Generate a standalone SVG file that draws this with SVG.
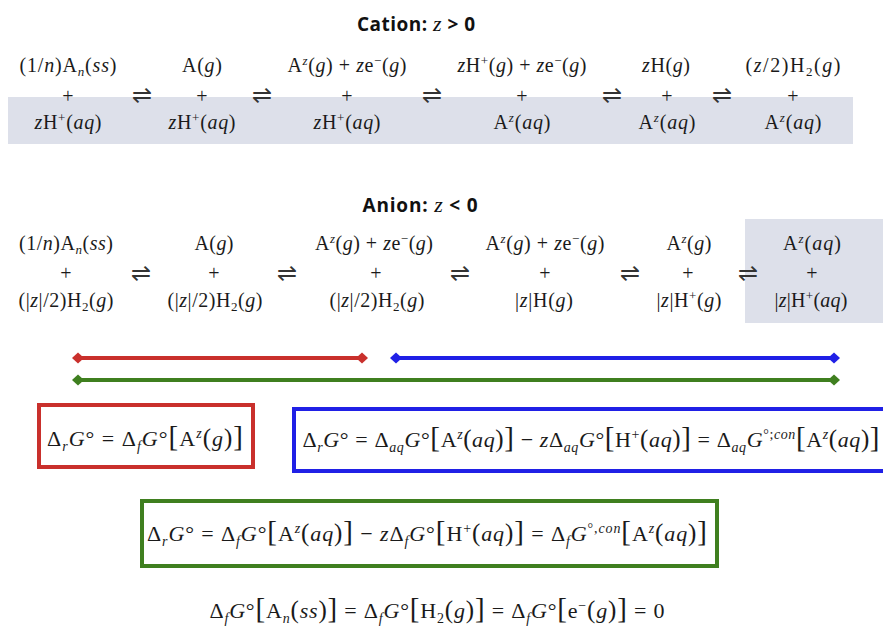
<svg xmlns="http://www.w3.org/2000/svg" width="883" height="628" viewBox="0 0 883 628">
<style>
.m{font-family:"Liberation Serif","Times New Roman",serif;font-size:20px;fill:#1a1a1a}
.e{font-family:"Liberation Serif","Times New Roman",serif;font-size:22px;fill:#1a1a1a}
.i{font-style:italic}
.s{font-size:13px}
.s2{font-size:14px}
.b{font-size:29px}
.p{font-size:25px}
.h{font-family:"DejaVu Sans",sans-serif;font-size:24px;fill:#333}
.t{font-family:"Open Sans","Liberation Sans",sans-serif;font-weight:bold;font-size:19px;fill:#111}
.tz{font-family:"Liberation Serif",serif;font-style:italic;font-weight:normal;font-size:22px}
.band{fill:#dde0ea}
.ln{fill:none;stroke-width:4}
.box{fill:#fff;stroke-width:4}
</style>
<defs>
<marker id="dr" viewBox="0 0 12 12" refX="6" refY="6" markerWidth="12" markerHeight="12" markerUnits="userSpaceOnUse" orient="auto"><path d="M0,6 L6,0.5 L12,6 L6,11.5 Z" fill="#c9302c"/></marker>
<marker id="db" viewBox="0 0 12 12" refX="6" refY="6" markerWidth="12" markerHeight="12" markerUnits="userSpaceOnUse" orient="auto"><path d="M0,6 L6,0.5 L12,6 L6,11.5 Z" fill="#2020e6"/></marker>
<marker id="dg" viewBox="0 0 12 12" refX="6" refY="6" markerWidth="12" markerHeight="12" markerUnits="userSpaceOnUse" orient="auto"><path d="M0,6 L6,0.5 L12,6 L6,11.5 Z" fill="#3f7f1f"/></marker>
</defs>
<rect width="883" height="628" fill="#fff"/>

<!-- shaded bands -->
<rect class="band" x="8" y="97" width="845" height="47"/>
<rect class="band" x="745" y="219" width="138" height="104"/>

<!-- titles -->
<g id="title-cation"><text class="t" x="416" y="31" text-anchor="middle" textLength="118">Cation: <tspan class="tz">z</tspan> &gt; 0</text></g>
<g id="title-anion"><text class="t" x="420" y="212" text-anchor="middle" textLength="115">Anion: <tspan class="tz">z</tspan> &lt; 0</text></g>

<!-- cation nodes -->
<g id="cat1">
<text class="m" x="68" y="72" text-anchor="middle" textLength="97">(1/<tspan class="i">n</tspan>)A<tspan class="i s" baseline-shift="-4">n</tspan>(<tspan class="i">ss</tspan>)</text>
<text class="m" x="68" y="103" text-anchor="middle">+</text>
<text class="m" x="68" y="129" text-anchor="middle" textLength="67"><tspan class="i">z</tspan>H<tspan class="s" baseline-shift="7">+</tspan>(<tspan class="i">aq</tspan>)</text>
</g>
<g id="cat2">
<text class="m" x="202" y="72" text-anchor="middle" textLength="40">A(<tspan class="i">g</tspan>)</text>
<text class="m" x="202" y="103" text-anchor="middle">+</text>
<text class="m" x="202" y="129" text-anchor="middle" textLength="67"><tspan class="i">z</tspan>H<tspan class="s" baseline-shift="7">+</tspan>(<tspan class="i">aq</tspan>)</text>
</g>
<g id="cat3">
<text class="m" x="347" y="72" text-anchor="middle" textLength="119">A<tspan class="i s" baseline-shift="7">z</tspan>(<tspan class="i">g</tspan>) + <tspan class="i">z</tspan>e<tspan class="s" baseline-shift="7">−</tspan>(<tspan class="i">g</tspan>)</text>
<text class="m" x="347" y="103" text-anchor="middle">+</text>
<text class="m" x="347" y="129" text-anchor="middle" textLength="67"><tspan class="i">z</tspan>H<tspan class="s" baseline-shift="7">+</tspan>(<tspan class="i">aq</tspan>)</text>
</g>
<g id="cat4">
<text class="m" x="522" y="72" text-anchor="middle" textLength="129"><tspan class="i">z</tspan>H<tspan class="s" baseline-shift="7">+</tspan>(<tspan class="i">g</tspan>) + <tspan class="i">z</tspan>e<tspan class="s" baseline-shift="7">−</tspan>(<tspan class="i">g</tspan>)</text>
<text class="m" x="522" y="103" text-anchor="middle">+</text>
<text class="m" x="522" y="129" text-anchor="middle" textLength="57">A<tspan class="i s" baseline-shift="7">z</tspan>(<tspan class="i">aq</tspan>)</text>
</g>
<g id="cat5">
<text class="m" x="666" y="72" text-anchor="middle" textLength="48"><tspan class="i">z</tspan>H(<tspan class="i">g</tspan>)</text>
<text class="m" x="667" y="103" text-anchor="middle">+</text>
<text class="m" x="667" y="129" text-anchor="middle" textLength="57">A<tspan class="i s" baseline-shift="7">z</tspan>(<tspan class="i">aq</tspan>)</text>
</g>
<g id="cat6">
<text class="m" x="793" y="72" text-anchor="middle" textLength="95">(<tspan class="i">z</tspan>/2)H<tspan class="s" baseline-shift="-4">2</tspan>(<tspan class="i">g</tspan>)</text>
<text class="m" x="793" y="103" text-anchor="middle">+</text>
<text class="m" x="793" y="129" text-anchor="middle" textLength="57">A<tspan class="i s" baseline-shift="7">z</tspan>(<tspan class="i">aq</tspan>)</text>
</g>

<!-- anion nodes -->
<g id="an1">
<text class="m" x="66" y="250" text-anchor="middle" textLength="94">(1/<tspan class="i">n</tspan>)A<tspan class="i s" baseline-shift="-4">n</tspan>(<tspan class="i">ss</tspan>)</text>
<text class="m" x="66" y="280" text-anchor="middle">+</text>
<text class="m" x="66" y="307" text-anchor="middle" textLength="95">(|<tspan class="i">z</tspan>|/2)H<tspan class="s" baseline-shift="-4">2</tspan>(<tspan class="i">g</tspan>)</text>
</g>
<g id="an2">
<text class="m" x="214" y="250" text-anchor="middle" textLength="39">A(<tspan class="i">g</tspan>)</text>
<text class="m" x="214" y="280" text-anchor="middle">+</text>
<text class="m" x="215" y="307" text-anchor="middle" textLength="95">(|<tspan class="i">z</tspan>|/2)H<tspan class="s" baseline-shift="-4">2</tspan>(<tspan class="i">g</tspan>)</text>
</g>
<g id="an3">
<text class="m" x="374" y="250" text-anchor="middle" textLength="118">A<tspan class="i s" baseline-shift="7">z</tspan>(<tspan class="i">g</tspan>) + <tspan class="i">z</tspan>e<tspan class="s" baseline-shift="7">−</tspan>(<tspan class="i">g</tspan>)</text>
<text class="m" x="376" y="280" text-anchor="middle">+</text>
<text class="m" x="377" y="307" text-anchor="middle" textLength="95">(|<tspan class="i">z</tspan>|/2)H<tspan class="s" baseline-shift="-4">2</tspan>(<tspan class="i">g</tspan>)</text>
</g>
<g id="an4">
<text class="m" x="545" y="250" text-anchor="middle" textLength="119">A<tspan class="i s" baseline-shift="7">z</tspan>(<tspan class="i">g</tspan>) + <tspan class="i">z</tspan>e<tspan class="s" baseline-shift="7">−</tspan>(<tspan class="i">g</tspan>)</text>
<text class="m" x="545" y="280" text-anchor="middle">+</text>
<text class="m" x="544" y="307" text-anchor="middle" textLength="58">|<tspan class="i">z</tspan>|H(<tspan class="i">g</tspan>)</text>
</g>
<g id="an5">
<text class="m" x="689" y="250" text-anchor="middle" textLength="45">A<tspan class="i s" baseline-shift="7">z</tspan>(<tspan class="i">g</tspan>)</text>
<text class="m" x="688" y="280" text-anchor="middle">+</text>
<text class="m" x="689" y="307" text-anchor="middle" textLength="65">|<tspan class="i">z</tspan>|H<tspan class="s" baseline-shift="7">+</tspan>(<tspan class="i">g</tspan>)</text>
</g>
<g id="an6">
<text class="m" x="812" y="250" text-anchor="middle" textLength="58">A<tspan class="i s" baseline-shift="7">z</tspan>(<tspan class="i">aq</tspan>)</text>
<text class="m" x="812" y="280" text-anchor="middle">+</text>
<text class="m" x="811" y="307" text-anchor="middle" textLength="73">|<tspan class="i">z</tspan>|H<tspan class="s" baseline-shift="7">+</tspan>(<tspan class="i">aq</tspan>)</text>
</g>

<!-- equilibrium arrows -->
<g id="equilibria">
<text class="h" x="142" y="103" text-anchor="middle">⇌</text>
<text class="h" x="262" y="103" text-anchor="middle">⇌</text>
<text class="h" x="432" y="103" text-anchor="middle">⇌</text>
<text class="h" x="612" y="103" text-anchor="middle">⇌</text>
<text class="h" x="722" y="103" text-anchor="middle">⇌</text>
<text class="h" x="141" y="281" text-anchor="middle">⇌</text>
<text class="h" x="287" y="281" text-anchor="middle">⇌</text>
<text class="h" x="460" y="281" text-anchor="middle">⇌</text>
<text class="h" x="630" y="281" text-anchor="middle">⇌</text>
<text class="h" x="748" y="281" text-anchor="middle">⇌</text>
</g>

<!-- connectors -->
<g id="connectors">
<line class="ln" x1="78" y1="358" x2="362" y2="358" stroke="#c9302c" marker-start="url(#dr)" marker-end="url(#dr)"/>
<line class="ln" x1="396" y1="358" x2="834" y2="358" stroke="#2020e6" marker-start="url(#db)" marker-end="url(#db)"/>
<line class="ln" x1="78" y1="380" x2="834" y2="380" stroke="#3f7f1f" marker-start="url(#dg)" marker-end="url(#dg)"/>
</g>

<!-- boxes -->
<g id="box-red">
<rect class="box" x="39" y="405" width="214" height="62" stroke="#c9302c"/>
<text class="e" x="145" y="446" text-anchor="middle" textLength="196">Δ<tspan class="i s2" baseline-shift="-5">r</tspan><tspan class="i">G</tspan>° = Δ<tspan class="i s2" baseline-shift="-5">f</tspan><tspan class="i">G</tspan>°<tspan class="b">[</tspan>A<tspan class="i s2" baseline-shift="8">z</tspan><tspan class="p">(</tspan><tspan class="i">g</tspan><tspan class="p">)</tspan><tspan class="b">]</tspan></text>
</g>
<g id="box-blue">
<rect class="box" x="294" y="409" width="600" height="62" stroke="#2020e6"/>
<text class="e" x="591" y="447" text-anchor="middle" textLength="577">Δ<tspan class="i s2" baseline-shift="-5">r</tspan><tspan class="i">G</tspan>° = Δ<tspan class="i s2" baseline-shift="-5">aq</tspan><tspan class="i">G</tspan>°<tspan class="b">[</tspan>A<tspan class="i s2" baseline-shift="8">z</tspan><tspan class="p">(</tspan><tspan class="i">aq</tspan><tspan class="p">)</tspan><tspan class="b">]</tspan> − <tspan class="i">z</tspan>Δ<tspan class="i s2" baseline-shift="-5">aq</tspan><tspan class="i">G</tspan>°<tspan class="b">[</tspan>H<tspan class="s2" baseline-shift="8">+</tspan><tspan class="p">(</tspan><tspan class="i">aq</tspan><tspan class="p">)</tspan><tspan class="b">]</tspan> = Δ<tspan class="i s2" baseline-shift="-5">aq</tspan><tspan class="i">G</tspan><tspan class="s2" baseline-shift="8">°;<tspan class="i">con</tspan></tspan><tspan class="b">[</tspan>A<tspan class="i s2" baseline-shift="8">z</tspan><tspan class="p">(</tspan><tspan class="i">aq</tspan><tspan class="p">)</tspan><tspan class="b">]</tspan></text>
</g>
<g id="box-green">
<rect class="box" x="142" y="501" width="575" height="65" stroke="#3f7f1f"/>
<text class="e" x="427" y="541" text-anchor="middle" textLength="560">Δ<tspan class="i s2" baseline-shift="-5">r</tspan><tspan class="i">G</tspan>° = Δ<tspan class="i s2" baseline-shift="-5">f</tspan><tspan class="i">G</tspan>°<tspan class="b">[</tspan>A<tspan class="i s2" baseline-shift="8">z</tspan><tspan class="p">(</tspan><tspan class="i">aq</tspan><tspan class="p">)</tspan><tspan class="b">]</tspan> − <tspan class="i">z</tspan>Δ<tspan class="i s2" baseline-shift="-5">f</tspan><tspan class="i">G</tspan>°<tspan class="b">[</tspan>H<tspan class="s2" baseline-shift="8">+</tspan><tspan class="p">(</tspan><tspan class="i">aq</tspan><tspan class="p">)</tspan><tspan class="b">]</tspan> = Δ<tspan class="i s2" baseline-shift="-5">f</tspan><tspan class="i">G</tspan><tspan class="s2" baseline-shift="8">°,<tspan class="i">con</tspan></tspan><tspan class="b">[</tspan>A<tspan class="i s2" baseline-shift="8">z</tspan><tspan class="p">(</tspan><tspan class="i">aq</tspan><tspan class="p">)</tspan><tspan class="b">]</tspan></text>
</g>
<g id="footnote">
<text class="e" x="437" y="618" text-anchor="middle" textLength="455">Δ<tspan class="i s2" baseline-shift="-5">f</tspan><tspan class="i">G</tspan>°<tspan class="b">[</tspan>A<tspan class="i s2" baseline-shift="-5">n</tspan><tspan class="p">(</tspan><tspan class="i">ss</tspan><tspan class="p">)</tspan><tspan class="b">]</tspan> = Δ<tspan class="i s2" baseline-shift="-5">f</tspan><tspan class="i">G</tspan>°<tspan class="b">[</tspan>H<tspan class="s2" baseline-shift="-5">2</tspan><tspan class="p">(</tspan><tspan class="i">g</tspan><tspan class="p">)</tspan><tspan class="b">]</tspan> = Δ<tspan class="i s2" baseline-shift="-5">f</tspan><tspan class="i">G</tspan>°<tspan class="b">[</tspan>e<tspan class="s2" baseline-shift="8">−</tspan><tspan class="p">(</tspan><tspan class="i">g</tspan><tspan class="p">)</tspan><tspan class="b">]</tspan> = 0</text>
</g>
</svg>
